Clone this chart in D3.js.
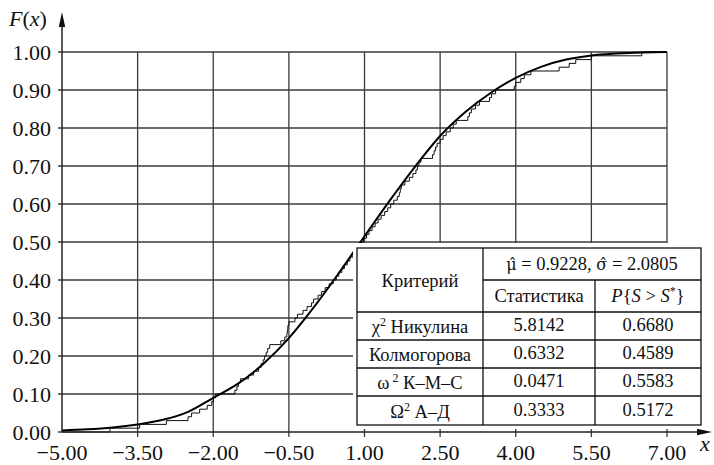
<!DOCTYPE html>
<html><head><meta charset="utf-8">
<script src="https://cdn.jsdelivr.net/npm/d3@7"></script>
<style>
body{margin:0;background:#fff}
svg{display:block}
</style>
</head><body>
<svg id="c" width="714" height="465"></svg>
<script>
// ---- data ----
const xTicks = [-5, -3.5, -2, -0.5, 1, 2.5, 4, 5.5, 7];
const yTicks = [0, 0.1, 0.2, 0.3, 0.4, 0.5, 0.6, 0.7, 0.8, 0.9, 1.0];
// theoretical CDF
const curveX = [-5, -4.5, -4, -3.5, -3, -2.5, -2, -1.5, -1, -0.5, 0, 0.5, 1, 1.5, 2, 2.5, 3, 3.5, 4, 4.5, 5, 5.5, 6, 6.5, 7];
const curveF = [0.004, 0.007, 0.012, 0.020, 0.032, 0.053, 0.090, 0.128, 0.180, 0.247, 0.329, 0.420, 0.515, 0.609, 0.698, 0.779, 0.842, 0.892, 0.932, 0.961, 0.980, 0.991, 0.996, 0.999, 1.000];
// sorted sample (jump points of the empirical CDF)
const sample = [-4.05, -3.46, -2.93, -2.50, -2.43, -2.27, -2.12, -2.03, -2.00, -1.96,
  -1.57, -1.53, -1.50, -1.46, -1.30, -1.20, -1.10, -1.05, -1.01, -0.98,
  -0.95, -0.92, -0.88, -0.66, -0.58, -0.54, -0.53, -0.52, -0.50, -0.38,
  -0.33, -0.22, -0.14, -0.05, -0.01, 0.08, 0.15, 0.22, 0.30, 0.38,
  0.44, 0.49, 0.55, 0.60, 0.66, 0.71, 0.77, 0.82, 0.88, 0.93,
  0.98, 1.04, 1.09, 1.15, 1.21, 1.27, 1.33, 1.40, 1.46, 1.52,
  1.58, 1.65, 1.69, 1.71, 1.73, 1.80, 1.89, 1.96, 2.02, 2.05,
  2.08, 2.12, 2.35, 2.38, 2.41, 2.44, 2.50, 2.56, 2.62, 2.70,
  2.76, 2.82, 3.05, 3.08, 3.12, 3.20, 3.28, 3.48, 3.52, 3.60,
  3.97, 4.00, 4.10, 4.17, 4.30, 4.86, 5.06, 5.19, 5.50, 6.50];
// table
const paramText = "0.9228";
const sigmaText = "2.0805";
const critSym = ["χ", "", "ω", "Ω"];
const critSup = ["2", "", "2", "2"];
const critName = ["Никулина", "Колмогорова", "К–М–С", "А–Д"];
const statistic = ["5.8142", "0.6332", "0.0471", "0.3333"];
const pValue = ["0.6680", "0.4589", "0.5583", "0.5172"];

// ---- drawing ----
const svg = d3.select("#c");
const x = d3.scaleLinear().domain([-5, 7]).range([62, 667]);
const y = d3.scaleLinear().domain([0, 1]).range([432, 52]);
const fmt = d3.format(".2f");
const gridCol = "#3a3a3a";
const T0 = (sel) => sel.style("font-family", "Liberation Serif").attr("fill", "#111");

// grid
svg.append("g").selectAll("line").data(yTicks.filter(d => d > 0)).join("line")
  .attr("x1", x(-5) - 4).attr("x2", x(7)).attr("y1", d => y(d)).attr("y2", d => y(d))
  .attr("stroke", gridCol).attr("stroke-width", 1.3);
svg.append("g").selectAll("line").data(xTicks.filter(d => d > -5)).join("line")
  .attr("x1", d => x(d)).attr("x2", d => x(d)).attr("y1", y(1)).attr("y2", y(0) + 5)
  .attr("stroke", gridCol).attr("stroke-width", 1.3);

// empirical CDF
const n = sample.length;
const ecdfPts = [[-5, 0]].concat(sample.map((s, i) => [s, (i + 1) / n]), [[7, 1]]);
svg.append("path").datum(ecdfPts)
  .attr("d", d3.line().x(d => x(d[0])).y(d => y(d[1])).curve(d3.curveStepAfter))
  .attr("fill", "none").attr("stroke", "#111").attr("stroke-width", 1);

// theoretical CDF
svg.append("path").datum(curveX.map((v, i) => [v, curveF[i]]))
  .attr("d", d3.line().x(d => x(d[0])).y(d => y(d[1])).curve(d3.curveMonotoneX))
  .attr("fill", "none").attr("stroke", "#000").attr("stroke-width", 2);

// axes
svg.append("line").attr("x1", x(-5)).attr("x2", 700).attr("y1", y(0)).attr("y2", y(0))
  .attr("stroke", "#222").attr("stroke-width", 1.5);
svg.append("path").attr("d", `M712,${y(0)} L697,${y(0) - 3.2} L697,${y(0) + 3.2} Z`).attr("fill", "#111");
svg.append("line").attr("x1", x(-5)).attr("x2", x(-5)).attr("y1", y(0)).attr("y2", 24)
  .attr("stroke", "#222").attr("stroke-width", 1.5);
svg.append("path").attr("d", `M${x(-5)},12 L${x(-5) - 3.2},27 L${x(-5) + 3.2},27 Z`).attr("fill", "#111");
svg.append("line").attr("x1", x(-5) - 4).attr("x2", x(-5)).attr("y1", y(0)).attr("y2", y(0))
  .attr("stroke", "#222").attr("stroke-width", 1.3);

// tick labels
svg.append("g").selectAll("text").data(yTicks).join("text").call(T0)
  .attr("x", 51).attr("y", d => y(d) + 7.5).attr("text-anchor", "end")
  .style("font-size", "22px").text(d => fmt(d));
svg.append("g").selectAll("text").data(xTicks).join("text").call(T0)
  .attr("x", d => x(d)).attr("y", 460).attr("text-anchor", "middle")
  .style("font-size", "22px").text(d => fmt(d));

// axis titles
const ft = svg.append("text").call(T0).attr("x", 9).attr("y", 26).style("font-size", "22px");
ft.append("tspan").style("font-style", "italic").text("F");
ft.append("tspan").text("(");
ft.append("tspan").style("font-style", "italic").text("x");
ft.append("tspan").text(")");
svg.append("text").call(T0).attr("x", 700).attr("y", 451).style("font-size", "22px").style("font-style", "italic").text("x");

// table
const T = {l: 357, r: 701, t: 248, b: 425, c1: 483, c2: 595, hm: 280, hb: 312};
const rowB = [T.hb, 340, 368, 396, T.b];
svg.append("rect").attr("x", 353).attr("y", 243).attr("width", 361).attr("height", 186).attr("fill", "#fff");
const tg = svg.append("g").attr("stroke", "#111").attr("stroke-width", 1.3);
tg.append("rect").attr("x", T.l).attr("y", T.t).attr("width", T.r - T.l).attr("height", T.b - T.t).attr("fill", "none");
tg.append("line").attr("x1", T.c1).attr("x2", T.c1).attr("y1", T.t).attr("y2", T.b);
tg.append("line").attr("x1", T.c2).attr("x2", T.c2).attr("y1", T.hm).attr("y2", T.b);
tg.append("line").attr("x1", T.c1).attr("x2", T.r).attr("y1", T.hm).attr("y2", T.hm);
tg.selectAll("line.r").data(rowB.slice(0, 4)).join("line").attr("class", "r")
  .attr("x1", T.l).attr("x2", T.r).attr("y1", d => d).attr("y2", d => d);

const fs = "18.5px";
svg.append("text").call(T0).attr("x", (T.l + T.c1) / 2).attr("y", 287).attr("text-anchor", "middle")
  .style("font-size", fs).text("Критерий");
// parameter line, hats as combining circumflex (DejaVu places marks correctly)
const pt = svg.append("text").call(T0).attr("x", (T.c1 + T.r) / 2).attr("y", 270).attr("text-anchor", "middle").style("font-size", fs);
pt.append("tspan").style("font-family", "DejaVu Serif").style("font-size", "16px").text("μ\u0302");
pt.append("tspan").text(" = " + paramText + ", ");
pt.append("tspan").style("font-family", "DejaVu Serif").style("font-size", "16px").text("σ\u0302");
pt.append("tspan").text(" = " + sigmaText);

svg.append("text").call(T0).attr("x", (T.c1 + T.c2) / 2).attr("y", 302).attr("text-anchor", "middle")
  .style("font-size", fs).text("Статистика");
const pp = svg.append("text").call(T0).attr("x", (T.c2 + T.r) / 2).attr("y", 302).attr("text-anchor", "middle").style("font-size", fs);
pp.append("tspan").style("font-style", "italic").text("P");
pp.append("tspan").text("{");
pp.append("tspan").style("font-style", "italic").text("S");
pp.append("tspan").text(" > ");
pp.append("tspan").style("font-style", "italic").text("S");
pp.append("tspan").attr("dy", -7).style("font-size", "12px").text("*");
pp.append("tspan").attr("dy", 7).text("}");

critName.forEach((nm, i) => {
  const cy = (rowB[i] + rowB[i + 1]) / 2;
  const t = svg.append("text").call(T0).attr("x", (T.l + T.c1) / 2).attr("y", cy + 7).attr("text-anchor", "middle").style("font-size", fs);
  if (critSym[i]) {
    t.append("tspan").text(critSym[i]);
    t.append("tspan").attr("dy", -7).style("font-size", "12px").text((i === 2 ? " " : "") + critSup[i]);
    t.append("tspan").attr("dy", 7).text(" " + nm);
  } else {
    t.text(nm);
  }
  svg.append("text").call(T0).attr("x", (T.c1 + T.c2) / 2).attr("y", cy + 5).attr("text-anchor", "middle").style("font-size", fs).text(statistic[i]);
  svg.append("text").call(T0).attr("x", (T.c2 + T.r) / 2).attr("y", cy + 5).attr("text-anchor", "middle").style("font-size", fs).text(pValue[i]);
});
</script>
</body></html>
